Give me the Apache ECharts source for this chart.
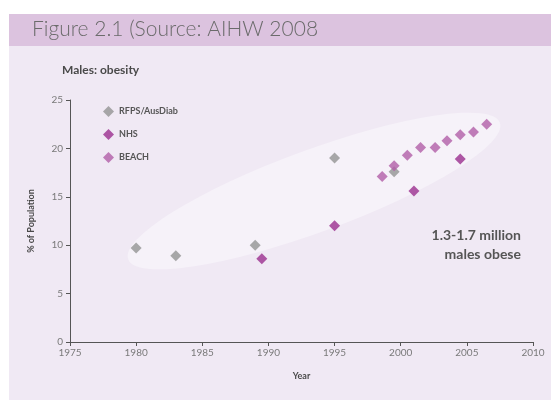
<!DOCTYPE html>
<html>
<head>
<meta charset="utf-8">
<script src="https://cdn.jsdelivr.net/npm/echarts@6/dist/echarts.min.js"></script>
<style>
  html, body { margin: 0; padding: 0; background: #ffffff; }
  #chart { width: 551px; height: 400px; }
</style>
</head>
<body>
<div id="chart"></div>
<script>
// data
var rfpsYears = [1980, 1983, 1989, 1995, 1999.5];
var rfpsValues = [9.7, 8.9, 10.0, 19.0, 17.6];
var nhsYears = [1989.5, 1995, 2001, 2004.5];
var nhsValues = [8.6, 12.0, 15.6, 18.9];
var beachYears = [1998.6, 1999.5, 2000.5, 2001.5, 2002.6, 2003.5, 2004.5, 2005.5, 2006.5];
var beachValues = [17.1, 18.2, 19.3, 20.1, 20.1, 20.8, 21.4, 21.7, 22.5];

function pairs(xs, ys) {
  return xs.map(function (x, i) { return [x, ys[i]]; });
}

var chartDom = document.getElementById('chart');
var myChart = echarts.init(chartDom, null, { renderer: 'canvas' });

var font = 'Lato, "Noto Sans", sans-serif';

var option = {
  backgroundColor: '#ffffff',
  animation: false,
  textStyle: { fontFamily: font },
  graphic: [
    { type: 'rect', z: -10, shape: { x: 9, y: 46, width: 542, height: 354 }, style: { fill: '#f0e9f4' } },
    { type: 'rect', z: -10, shape: { x: 9, y: 14, width: 542, height: 32 }, style: { fill: '#dcc3df' } },
    { type: 'text', z: 10, x: 32, y: 19, style: { text: 'Figure 2.1 (Source: AIHW 2008', fill: '#6b6b6b', font: '300 21px ' + font } },
    { type: 'text', z: 10, x: 62, y: 64, style: { text: 'Males: obesity', fill: '#4a4a4a', font: 'bold 12px ' + font } },
    // highlight ellipse behind the points
    { type: 'circle', z: -5, x: 314, y: 191, rotation: 0.352, scaleX: 1.98, scaleY: 0.41,
      shape: { cx: 0, cy: 0, r: 100 }, style: { fill: '#f6f2f9' } },
    { type: 'text', z: 10, x: 521, y: 226, style: { text: '1.3-1.7 million\nmales obese', align: 'right', fill: '#555555', font: 'bold 14px ' + font, lineHeight: 19 } }
  ],
  legend: {
    left: 98,
    top: 101,
    orient: 'vertical',
    itemGap: 12,
    itemWidth: 11,
    itemHeight: 11,
    textStyle: { color: '#555555', fontSize: 9, fontWeight: 'bold', fontFamily: font },
    data: ['RFPS/AusDiab', 'NHS', 'BEACH']
  },
  grid: { left: 70, right: 18, top: 100, bottom: 58 },
  xAxis: {
    type: 'value',
    min: 1975,
    max: 2010,
    interval: 5,
    name: 'Year',
    nameLocation: 'middle',
    nameGap: 30,
    nameTextStyle: { color: '#4a4a4a', fontSize: 9, fontWeight: 'bold' },
    splitLine: { show: false },
    axisLine: { lineStyle: { color: '#555555', width: 1 } },
    axisTick: { show: true, length: 4, lineStyle: { color: '#555555' } },
    axisLabel: { color: '#7a7a7a', fontSize: 10, margin: 6, formatter: function (v) { return String(v); } }
  },
  yAxis: {
    type: 'value',
    min: 0,
    max: 25,
    interval: 5,
    name: '% of Population',
    nameLocation: 'middle',
    nameGap: 34,
    nameTextStyle: { color: '#4a4a4a', fontSize: 9, fontWeight: 'bold' },
    splitLine: { show: false },
    axisLine: { show: true, lineStyle: { color: '#555555', width: 1 } },
    axisTick: { show: true, length: 4, lineStyle: { color: '#555555' } },
    axisLabel: { color: '#7a7a7a', fontSize: 10, margin: 7 }
  },
  series: [
    {
      name: 'RFPS/AusDiab',
      type: 'scatter',
      symbol: 'diamond',
      symbolSize: 11,
      itemStyle: { color: '#939393' },
      data: pairs(rfpsYears, rfpsValues)
    },
    {
      name: 'NHS',
      type: 'scatter',
      symbol: 'diamond',
      symbolSize: 11,
      itemStyle: { color: '#9b2e8e' },
      data: pairs(nhsYears, nhsValues)
    },
    {
      name: 'BEACH',
      type: 'scatter',
      symbol: 'diamond',
      symbolSize: 11,
      itemStyle: { color: '#b15ea7' },
      data: pairs(beachYears, beachValues)
    }
  ]
};

option && myChart.setOption(option);
</script>
</body>
</html>
